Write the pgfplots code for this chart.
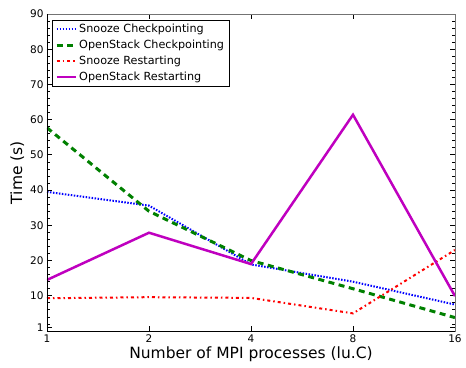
\documentclass[border=0pt]{standalone}
\usepackage{pgfplots}
\pgfplotsset{compat=1.18}
\usepackage{fontspec}
\setmainfont{DejaVu Sans}
\begin{document}
\begin{tikzpicture}[x=1pt,y=1pt]
\useasboundingbox (-47,-36) rectangle (419,331);
\begin{axis}[
  at={(0,0)}, anchor=south west,
  scale only axis, width=408pt, height=317pt,
  xmin=0, xmax=4, ymin=0, ymax=90,
  xtick={0,1,2,3,4}, xticklabels={1,2,4,8,16},
  ytick={1,10,20,30,40,50,60,70,80,90},
  minor ytick={2,4,6,8,12,14,16,18,22,24,26,28,32,34,36,38,42,44,46,48,52,54,56,58,62,64,66,68,72,74,76,78,82,84,86,88},
  tick align=inside,
  major tick length=5pt, minor tick length=3pt,
  every tick/.style={black, line width=0.8pt},
  tick label style={font=\fontsize{10.5}{12}\selectfont},
  /pgf/number format/assume math mode=true,
  xlabel={Number of MPI processes (lu.C)},
  ylabel={Time (s)},
  label style={font=\fontsize{15.5}{17}\selectfont},
  xlabel style={yshift=3pt},
  ylabel style={yshift=-1pt},
  axis line style={line width=0.8pt, black!55},
  legend cell align=left,
  legend style={font=\fontsize{11.2}{13}\selectfont, draw=black, line width=0.6pt, inner xsep=3pt, inner ysep=2pt, row sep=2pt, at={(0.012,0.982)}, anchor=north west},
  legend image code/.code={\draw[#1] (0pt,0pt) -- (19pt,0pt);},
]
\addplot[blue, line width=2pt, dash pattern=on 1.5pt off 1.5pt] coordinates {(0,39.5) (1,35.6) (2,18.9) (3,14) (4,7.5)};
\addlegendentry{Snooze Checkpointing}
\addplot[black!50!green, line width=3pt, dash pattern=on 6pt off 4.5pt] coordinates {(0,57.7) (1,34) (2,20) (3,12) (4,3.8)};
\addlegendentry{OpenStack Checkpointing}
\addplot[red, line width=2pt, dash pattern=on 3pt off 3pt on 1.5pt off 3pt] coordinates {(0,9.3) (1,9.6) (2,9.4) (3,5) (4,23)};
\addlegendentry{Snooze Restarting}
\addplot[color={rgb,1:red,0.75;green,0;blue,0.75}, line width=2.5pt] coordinates {(0,14.5) (1,27.9) (2,19) (3,61.4) (4,9.9)};
\addlegendentry{OpenStack Restarting}
\draw[black, line width=0.8pt] (rel axis cs:0,1) -- (rel axis cs:0,0) -- (rel axis cs:1,0);
\end{axis}
\end{tikzpicture}
\end{document}
